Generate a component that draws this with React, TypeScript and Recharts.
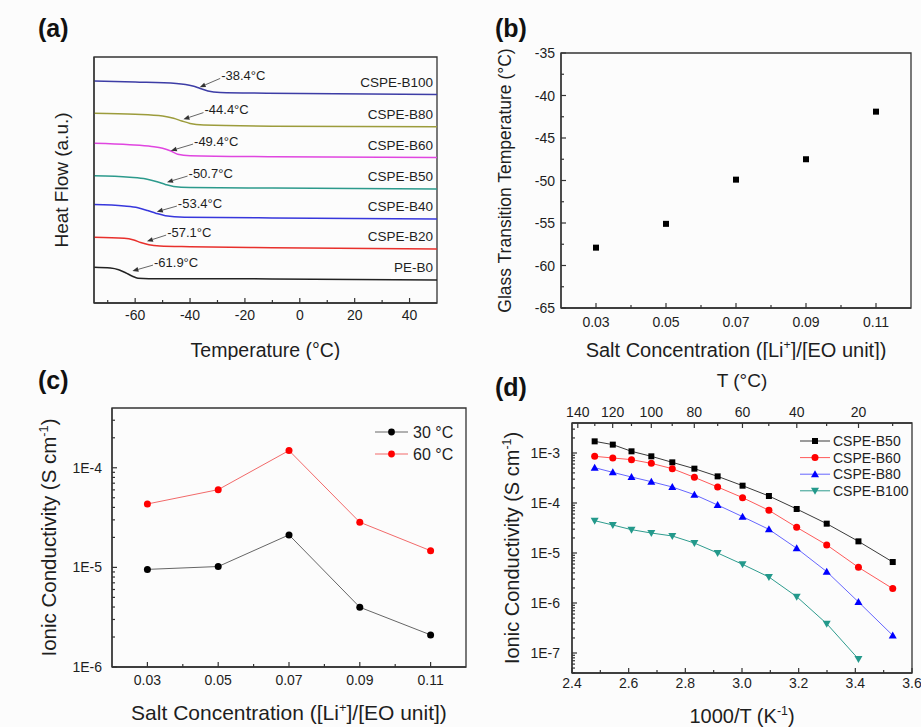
import React from 'react';
import {
  LineChart,
  Line,
  XAxis,
  YAxis,
  ReferenceArea,
  ReferenceLine,
  ReferenceDot,
  Legend,
} from 'recharts';

type Pt = [number, number];
type Part = { t: string; sup?: boolean };

const FONT = '"Liberation Sans", Arial, Helvetica, sans-serif';
const INK = '#1e1e1e';
const AXIS = '#333';

// ---- (a) DSC traces: [temperature °C, heat flow a.u.] ----
const hfB100: Pt[] = [[-75, 90.2], [-60, 89.8], [-45, 89.2], [-39, 88.2], [-36.3, 87.2], [-33.5, 86.2], [-29, 85.6], [-12, 85.3], [50, 84.8]];
const hfB80: Pt[] = [[-75, 77.1], [-60, 76.7], [-50, 76.0], [-46, 75.1], [-43, 74.0], [-40, 73.0], [-35, 72.4], [-10, 71.9], [50, 71.6]];
const hfB60: Pt[] = [[-75, 64.9], [-62, 64.3], [-54, 63.6], [-50, 62.9], [-47, 61.8], [-44.5, 60.5], [-40, 59.9], [-10, 59.5], [50, 59.1]];
const hfB50: Pt[] = [[-75, 51.7], [-62, 51.1], [-56, 50.4], [-52, 49.3], [-49, 48.2], [-46, 47.4], [-40, 47.0], [-10, 46.7], [50, 46.3]];
const hfB40: Pt[] = [[-75, 40.0], [-64, 39.4], [-59, 38.7], [-55.5, 37.6], [-52.5, 36.5], [-49, 35.5], [-42, 34.9], [-10, 34.6], [50, 34.1]];
const hfB20: Pt[] = [[-75, 26.7], [-64, 26.3], [-60.5, 25.6], [-58, 24.6], [-55, 23.7], [-51, 23.2], [-40, 22.9], [-10, 22.5], [50, 22.0]];
const hfB0: Pt[] = [[-75, 14.5], [-69, 14.2], [-66, 13.5], [-63.5, 12.3], [-61, 10.9], [-59, 10.1], [-55, 9.9], [-10, 9.8], [50, 9.3]];

const dscNames = ['CSPE-B100', 'CSPE-B80', 'CSPE-B60', 'CSPE-B50', 'CSPE-B40', 'CSPE-B20', 'PE-B0'];
const dscColors = ['#3d3da6', '#9c9c3c', '#e046e0', '#2c9a8c', '#3737dc', '#e8302c', '#222222'];
const dscTraces = [hfB100, hfB80, hfB60, hfB50, hfB40, hfB20, hfB0];

// glass transitions marked on each trace, with arrow tail/tip in (°C, a.u.)
const tgMarked = [-38.4, -44.4, -49.4, -50.7, -53.4, -57.1, -61.9];
const tgArrowTail: Pt[] = [[-29.0, 91.3], [-35.1, 77.4], [-38.9, 64.6], [-40.9, 51.6], [-44.8, 39.4], [-48.7, 27.6], [-53.5, 15.4]];
const tgArrowTip: Pt[] = [[-36.5, 87.7], [-42.4, 74.7], [-47.0, 61.9], [-48.4, 49.1], [-52.1, 37.1], [-55.7, 25.1], [-61.0, 13.0]];

const dscTicks = [-70, -60, -50, -40, -30, -20, -10, 0, 10, 20, 30, 40];

// ---- (b) Tg vs salt concentration ----
const saltConc = [0.03, 0.05, 0.07, 0.09, 0.11];
const tgVsSalt = [-57.9, -55.1, -49.9, -47.5, -41.9];
const saltTicks = [0.03, 0.04, 0.05, 0.06, 0.07, 0.08, 0.09, 0.1, 0.11];
const tgTicks = [-65, -62.5, -60, -57.5, -55, -52.5, -50, -47.5, -45, -42.5, -40, -37.5, -35];

// ---- (c) conductivity vs salt concentration ----
const sigma30 = [9.55e-6, 1.02e-5, 2.12e-5, 3.98e-6, 2.1e-6];
const sigma60 = [4.33e-5, 6.03e-5, 1.49e-4, 2.84e-5, 1.47e-5];

// ---- (d) Arrhenius plot ----
const invT = [2.48, 2.544, 2.61, 2.68, 2.754, 2.832, 2.914, 3.002, 3.095, 3.193, 3.299, 3.411, 3.532];
const sigB50 = [1.71e-3, 1.47e-3, 1.08e-3, 8.58e-4, 6.5e-4, 4.86e-4, 3.41e-4, 2.22e-4, 1.38e-4, 7.59e-5, 3.86e-5, 1.71e-5, 6.6e-6];
const sigB60 = [8.58e-4, 7.94e-4, 7.36e-4, 6.21e-4, 4.86e-4, 3.26e-4, 2.09e-4, 1.28e-4, 7.13e-5, 3.26e-5, 1.45e-5, 5.17e-6, 1.94e-6];
const sigB80 = [5.09e-4, 4.1e-4, 3.31e-4, 2.67e-4, 2.09e-4, 1.47e-4, 9.12e-5, 5.33e-5, 2.97e-5, 1.24e-5, 4.24e-6, 1.05e-6, 2.25e-7];
const sigB100 = [4.43e-5, 3.63e-5, 2.93e-5, 2.51e-5, 2.19e-5, 1.58e-5, 1.0e-5, 5.93e-6, 3.31e-6, 1.34e-6, 3.86e-7, 7.59e-8];
const invTTicks = [2.4, 2.5, 2.6, 2.7, 2.8, 2.9, 3.0, 3.1, 3.2, 3.3, 3.4, 3.5, 3.6];
const topTempC = [140, 130, 120, 110, 100, 90, 80, 70, 60, 50, 40, 30, 20, 10];

const C_LOG_MIN = 1e-6;
const C_LOG_MAX = Math.pow(10, -3.4);
const D_LOG_MIN = Math.pow(10, -7.4);
const D_LOG_MAX = Math.pow(10, -2.4);

function logTicks(lo: number, hi: number) {
  const out: number[] = [];
  for (let e = Math.floor(Math.log10(lo)); e <= Math.ceil(Math.log10(hi)); e++) {
    for (let m = 1; m <= 9; m++) {
      const v = m * Math.pow(10, e);
      if (v >= lo * 0.999 && v <= hi * 1.001) out.push(v);
    }
  }
  return out;
}
const isDecade = (v: number) => Math.abs(Math.log10(v) - Math.round(Math.log10(v))) < 1e-6;
const fmtDecade = (v: number) => `1E${Math.round(Math.log10(v))}`;

// ---------- text helpers ----------
function RichText({ x, y, parts, size, rotate = false, anchor = 'middle' }: {
  x: number; y: number; parts: Part[]; size: number; rotate?: boolean; anchor?: string;
}) {
  const base = y + size * 0.35;
  return (
    <text
      x={x}
      y={base}
      textAnchor={anchor as any}
      transform={rotate ? `rotate(-90 ${x} ${y})` : undefined}
      fontFamily={FONT}
      fontSize={size}
      fill={INK}
    >
      {parts.map((p, i) =>
        p.sup ? (
          <tspan key={i} fontSize={size * 0.62} dy={-size * 0.42}>{p.t}</tspan>
        ) : (
          <tspan key={i} dy={i > 0 && parts[i - 1].sup ? size * 0.42 : 0}>{p.t}</tspan>
        ),
      )}
    </text>
  );
}

const xTitle = (parts: Part[], below: number, size: number) => (p: any) => {
  const vb = p.viewBox;
  return <RichText x={vb.x + vb.width / 2} y={vb.y + below} parts={parts} size={size} />;
};
const yTitle = (parts: Part[], left: number, size: number) => (p: any) => {
  const vb = p.viewBox;
  return <RichText x={vb.x + vb.width - left} y={vb.y + vb.height / 2} parts={parts} size={size} rotate />;
};
const topTitle = (parts: Part[], above: number, size: number) => (p: any) => {
  const vb = p.viewBox;
  return <RichText x={vb.x + vb.width / 2} y={vb.y + vb.height - above} parts={parts} size={size} />;
};

const tickFont = { fontFamily: FONT, fontSize: 14, fill: INK };

// ticks are drawn inward, labels outside
const bottomTick = (major: (v: number) => boolean, fmt: (v: number) => string, gap: number) => (p: any) => {
  const v = p.payload.value;
  const m = major(v);
  return (
    <g>
      <line x1={p.x} x2={p.x} y1={p.y} y2={p.y - (m ? 5 : 3)} stroke={AXIS} strokeWidth={1.2} />
      {m && <text x={p.x} y={p.y + gap} textAnchor="middle" {...tickFont}>{fmt(v)}</text>}
    </g>
  );
};
const leftTick = (major: (v: number) => boolean, fmt: (v: number) => string, gap: number) => (p: any) => {
  const v = p.payload.value;
  const m = major(v);
  return (
    <g>
      <line x1={p.x} x2={p.x + (m ? 5 : 3)} y1={p.y} y2={p.y} stroke={AXIS} strokeWidth={1.2} />
      {m && <text x={p.x - gap} y={p.y + 5} textAnchor="end" {...tickFont}>{fmt(v)}</text>}
    </g>
  );
};
const topTick = (major: (v: number) => boolean, fmt: (v: number) => string, gap: number) => (p: any) => {
  const v = p.payload.value;
  const m = major(v);
  return (
    <g>
      <line x1={p.x} x2={p.x} y1={p.y} y2={p.y + (m ? 5 : 3)} stroke={AXIS} strokeWidth={1.2} />
      {m && <text x={p.x} y={p.y - gap} textAnchor="middle" {...tickFont}>{fmt(v)}</text>}
    </g>
  );
};

const axisLine = { stroke: AXIS, strokeWidth: 1.3 };
const near = (a: number, list: number[]) => list.some((b) => Math.abs(a - b) < 1e-9);

// ---------- markers ----------
const square = (fill: string, s = 6) => (p: any) =>
  p.cy == null || p.value == null ? <g /> : <rect x={p.cx - s / 2} y={p.cy - s / 2} width={s} height={s} fill={fill} />;
const circle = (fill: string, r = 3.4) => (p: any) =>
  p.cy == null || p.value == null ? <g /> : <circle cx={p.cx} cy={p.cy} r={r} fill={fill} />;
const triUp = (fill: string, s = 4) => (p: any) =>
  p.cy == null || p.value == null ? <g /> : (
    <polygon points={`${p.cx},${p.cy - s} ${p.cx + s},${p.cy + s * 0.75} ${p.cx - s},${p.cy + s * 0.75}`} fill={fill} />
  );
const triDown = (fill: string, s = 4) => (p: any) =>
  p.cy == null || p.value == null ? <g /> : (
    <polygon points={`${p.cx},${p.cy + s} ${p.cx + s},${p.cy - s * 0.75} ${p.cx - s},${p.cy - s * 0.75}`} fill={fill} />
  );

// ---------- (a) ----------
const tgArrow = (tg: number) => (p: any) => {
  const { x1, y1, x2, y2 } = p;
  const ang = Math.atan2(y2 - y1, x2 - x1);
  const L = 6;
  const W = 2.4;
  const bx = x2 - L * Math.cos(ang);
  const by = y2 - L * Math.sin(ang);
  const pts = `${x2},${y2} ${bx + W * Math.sin(ang)},${by - W * Math.cos(ang)} ${bx - W * Math.sin(ang)},${by + W * Math.cos(ang)}`;
  return (
    <g>
      <line x1={x1} y1={y1} x2={bx} y2={by} stroke="#555" strokeWidth={0.9} />
      <polygon points={pts} fill="#333" />
      <text x={x1 + 1} y={y1 + 1.5} fontFamily={FONT} fontSize={13} fill={INK}>
        {`${tg.toFixed(1)}°C`}
      </text>
    </g>
  );
};

function PanelDsc() {
  return (
    <LineChart width={460} height={360} margin={{ top: 57, right: 23, bottom: 0, left: 44 }}>
      <XAxis
        type="number"
        dataKey="t"
        domain={[-75, 50]}
        allowDataOverflow
        ticks={dscTicks}
        interval={0}
        height={57}
        tickSize={0}
        tickMargin={0}
        tickLine={false}
        axisLine={axisLine}
        tick={bottomTick((v) => v % 20 === 0, (v) => String(v), 17)}
        label={xTitle([{ t: 'Temperature (°C)' }], 47, 19.5)}
      />
      <YAxis
        type="number"
        domain={[0, 100]}
        allowDataOverflow
        width={50}
        tick={false}
        tickLine={false}
        axisLine={axisLine}
        label={yTitle([{ t: 'Heat Flow (a.u.)' }], 33, 19)}
      />
      <ReferenceArea x1={-75} x2={50} y1={0} y2={100} fill="none" stroke={AXIS} strokeWidth={1.3} ifOverflow="visible" />
      {dscTraces.map((pts, i) => (
        <Line
          key={dscNames[i]}
          data={pts.map(([t, hf]) => ({ t, hf }))}
          dataKey="hf"
          type="monotone"
          stroke={dscColors[i]}
          strokeWidth={1.5}
          dot={false}
          isAnimationActive={false}
        />
      ))}
      {dscTraces.map((pts, i) => {
        const last = pts[pts.length - 1];
        return (
          <ReferenceDot
            key={`lab-${dscNames[i]}`}
            x={last[0]}
            y={last[1]}
            r={0}
            ifOverflow="visible"
            shape={(p: any) => (
              <text x={p.cx - 4} y={p.cy - 7.7} textAnchor="end" fontFamily={FONT} fontSize={13.5} fill={INK}>
                {dscNames[i]}
              </text>
            )}
          />
        );
      })}
      {tgMarked.map((tg, i) => (
        <ReferenceLine
          key={`tg-${i}`}
          segment={[
            { x: tgArrowTail[i][0], y: tgArrowTail[i][1] },
            { x: tgArrowTip[i][0], y: tgArrowTip[i][1] },
          ]}
          ifOverflow="visible"
          shape={tgArrow(tg)}
        />
      ))}
    </LineChart>
  );
}

// ---------- (b) ----------
function PanelTg() {
  const rows = saltConc.map((x, i) => ({ x, tg: tgVsSalt[i] }));
  return (
    <LineChart width={461} height={360} data={rows} margin={{ top: 53, right: 10, bottom: 0, left: 51 }}>
      <XAxis
        type="number"
        dataKey="x"
        domain={[0.02, 0.12]}
        allowDataOverflow
        ticks={saltTicks}
        interval={0}
        height={52}
        tickSize={0}
        tickMargin={0}
        tickLine={false}
        axisLine={axisLine}
        tick={bottomTick((v) => near(v, saltConc), (v) => v.toFixed(2), 18.5)}
        label={xTitle([{ t: 'Salt Concentration ([Li' }, { t: '+', sup: true }, { t: ']/[EO unit])' }], 42, 20)}
      />
      <YAxis
        type="number"
        domain={[-65, -35]}
        allowDataOverflow
        ticks={tgTicks}
        interval={0}
        width={50}
        tickSize={0}
        tickMargin={0}
        tickLine={false}
        axisLine={axisLine}
        tick={leftTick((v) => v % 5 === 0, (v) => String(v), 6)}
        label={yTitle([{ t: 'Glass Transition Temperature (°C)' }], 56, 17.5)}
      />
      <ReferenceArea x1={0.02} x2={0.12} y1={-65} y2={-35} fill="none" stroke={AXIS} strokeWidth={1.3} ifOverflow="visible" />
      <Line dataKey="tg" type="linear" stroke="none" dot={square('#000', 6)} isAnimationActive={false} />
    </LineChart>
  );
}

// ---------- (c) ----------
const cSeries = [
  { key: 's30', label: '30 ', line: '#666', dot: '#000' },
  { key: 's60', label: '60 ', line: '#f26a6a', dot: '#ff0000' },
];

function legendC() {
  return (
    <svg width={100} height={46}>
      {cSeries.map((s, i) => (
        <g key={s.key}>
          <line x1={2} x2={35} y1={10 + i * 22} y2={10 + i * 22} stroke={s.line} strokeWidth={1} />
          <circle cx={18.5} cy={10 + i * 22} r={3.4} fill={s.dot} />
          <RichText x={40} y={10 + i * 22} parts={[{ t: `${s.label}°C` }]} size={16} anchor="start" />
        </g>
      ))}
    </svg>
  );
}

function PanelSigmaSalt() {
  const rows = saltConc.map((x, i) => ({ x, s30: sigma30[i], s60: sigma60[i] }));
  return (
    <LineChart width={470} height={367} data={rows} margin={{ top: 48, right: 4, bottom: 0, left: 62 }}>
      <XAxis
        type="number"
        dataKey="x"
        domain={[0.02, 0.12]}
        allowDataOverflow
        ticks={saltTicks}
        interval={0}
        height={60}
        tickSize={0}
        tickMargin={0}
        tickLine={false}
        axisLine={axisLine}
        tick={bottomTick((v) => near(v, saltConc), (v) => v.toFixed(2), 18)}
        label={xTitle([{ t: 'Salt Concentration ([Li' }, { t: '+', sup: true }, { t: ']/[EO unit])' }], 46, 21)}
      />
      <YAxis
        type="number"
        scale="log"
        domain={[C_LOG_MIN, C_LOG_MAX]}
        allowDataOverflow
        ticks={logTicks(C_LOG_MIN, C_LOG_MAX)}
        interval={0}
        width={50}
        tickSize={0}
        tickMargin={0}
        tickLine={false}
        axisLine={axisLine}
        tick={leftTick(isDecade, fmtDecade, 10)}
        label={yTitle([{ t: 'Ionic Conductivity (S cm' }, { t: '-1', sup: true }, { t: ')' }], 63, 20.5)}
      />
      <ReferenceArea x1={0.02} x2={0.12} y1={C_LOG_MIN} y2={C_LOG_MAX} fill="none" stroke={AXIS} strokeWidth={1.3} ifOverflow="visible" />
      {cSeries.map((s) => (
        <Line
          key={s.key}
          dataKey={s.key}
          type="linear"
          stroke={s.line}
          strokeWidth={1}
          dot={circle(s.dot, 3.5)}
          isAnimationActive={false}
        />
      ))}
      <Legend
        layout="horizontal"
        align="center"
        verticalAlign="middle"
        content={legendC}
        wrapperStyle={{ left: 373, top: 62, width: 100, height: 46 }}
      />
    </LineChart>
  );
}

// ---------- (d) ----------
const dSeries = [
  { key: 'b50', name: 'CSPE-B50', line: '#3a3a3a', marker: square('#000', 6) },
  { key: 'b60', name: 'CSPE-B60', line: '#ff5a5a', marker: circle('#ff0000', 3.5) },
  { key: 'b80', name: 'CSPE-B80', line: '#6666ff', marker: triUp('#0000ff', 4) },
  { key: 'b100', name: 'CSPE-B100', line: '#2e9c8e', marker: triDown('#23998b', 4) },
];

function legendD() {
  return (
    <svg width={125} height={70}>
      {dSeries.map((s, i) => {
        const y = 8 + i * 16.6;
        const mk = { cx: 17, cy: y, value: 1 };
        return (
          <g key={s.key}>
            <line x1={2} x2={32} y1={y} y2={y} stroke={s.line} strokeWidth={1} />
            {s.marker(mk)}
            <text x={35} y={y + 5} fontFamily={FONT} fontSize={14} fill={INK}>{s.name}</text>
          </g>
        );
      })}
    </svg>
  );
}

function PanelArrhenius() {
  const rows = invT.map((x, i) => ({ x, b50: sigB50[i], b60: sigB60[i], b80: sigB80[i], b100: sigB100[i] ?? null }));
  const topPos = topTempC.map((c) => 1000 / (c + 273.15));
  const toC = (v: number) => Math.round(1000 / v - 273.15);
  return (
    <LineChart width={461} height={367} data={rows} margin={{ top: 23, right: 9, bottom: 0, left: 62 }}>
      <XAxis
        xAxisId="b"
        type="number"
        dataKey="x"
        domain={[2.4, 3.6]}
        allowDataOverflow
        ticks={invTTicks}
        interval={0}
        height={54}
        tickSize={0}
        tickMargin={0}
        tickLine={false}
        axisLine={axisLine}
        tick={bottomTick((v) => Math.round(v * 10) % 2 === 0, (v) => v.toFixed(1), 15)}
        label={xTitle([{ t: '1000/T (K' }, { t: '-1', sup: true }, { t: ')' }], 43, 20)}
      />
      <XAxis
        xAxisId="t"
        orientation="top"
        type="number"
        dataKey="x"
        domain={[2.4, 3.6]}
        allowDataOverflow
        ticks={topPos}
        interval={0}
        height={40}
        tickSize={0}
        tickMargin={0}
        tickLine={false}
        axisLine={axisLine}
        tick={topTick((v) => toC(v) % 20 === 0, (v) => String(toC(v)), 6.5)}
        label={topTitle([{ t: 'T (°C)' }], 43, 19)}
      />
      <YAxis
        type="number"
        scale="log"
        domain={[D_LOG_MIN, D_LOG_MAX]}
        allowDataOverflow
        ticks={logTicks(D_LOG_MIN, D_LOG_MAX)}
        interval={0}
        width={50}
        tickSize={0}
        tickMargin={0}
        tickLine={false}
        axisLine={axisLine}
        tick={leftTick(isDecade, fmtDecade, 12)}
        label={yTitle([{ t: 'Ionic Conductivity (S cm' }, { t: '-1', sup: true }, { t: ')' }], 60, 20)}
      />
      <ReferenceArea xAxisId="b" x1={2.4} x2={3.6} y1={D_LOG_MIN} y2={D_LOG_MAX} fill="none" stroke={AXIS} strokeWidth={1.3} ifOverflow="visible" />
      {dSeries.map((s) => (
        <Line
          key={s.key}
          xAxisId="b"
          dataKey={s.key}
          type="linear"
          stroke={s.line}
          strokeWidth={1}
          dot={s.marker}
          isAnimationActive={false}
        />
      ))}
      <Legend
        layout="horizontal"
        align="center"
        verticalAlign="middle"
        content={legendD}
        wrapperStyle={{ left: 338, top: 73, width: 125, height: 70 }}
      />
    </LineChart>
  );
}

const panelLetter = (text: string, left: number, top: number) => (
  <div style={{ position: 'absolute', left, top, fontFamily: FONT, fontWeight: 'bold', fontSize: 25, lineHeight: 1, color: '#111' }}>
    {text}
  </div>
);

export default function App() {
  return (
    <div style={{ position: 'absolute', left: 0, top: 0, width: 921, height: 727, background: '#fcfcfc', overflow: 'hidden' }}>
      <div style={{ position: 'absolute', left: 0, top: 0 }}><PanelDsc /></div>
      <div style={{ position: 'absolute', left: 460, top: 0 }}><PanelTg /></div>
      <div style={{ position: 'absolute', left: 0, top: 360 }}><PanelSigmaSalt /></div>
      <div style={{ position: 'absolute', left: 460, top: 360 }}><PanelArrhenius /></div>
      {panelLetter('(a)', 38, 16)}
      {panelLetter('(b)', 495, 16)}
      {panelLetter('(c)', 38, 368)}
      {panelLetter('(d)', 495, 375)}
    </div>
  );
}
